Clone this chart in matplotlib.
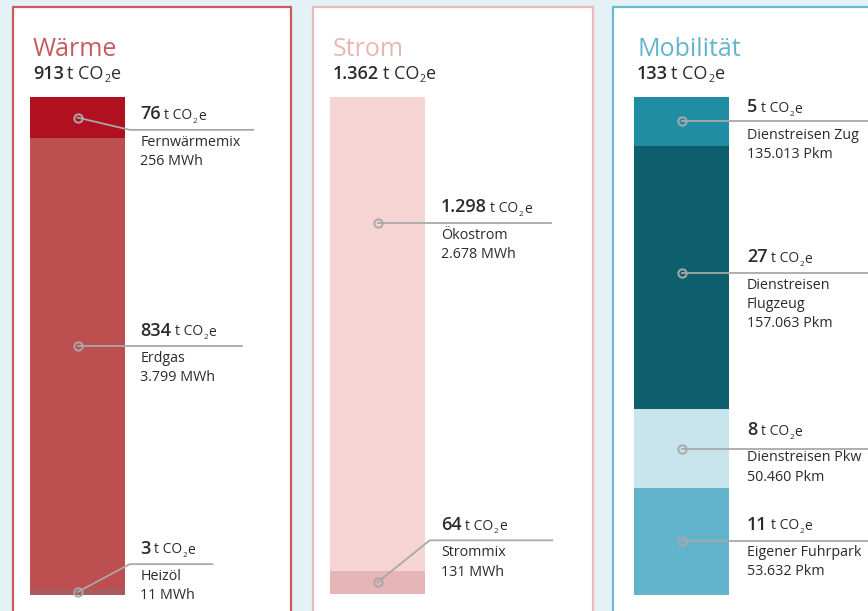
import matplotlib.pyplot as plt
from matplotlib.patches import Rectangle

plt.rcParams["font.family"] = ["Open Sans", "DejaVu Sans"]

# DATEN
bereiche      = ["Wärme", "Strom", "Mobilität"]
gesamt        = ["913", "1.362", "133"]

waerme_namen  = ["Fernwärmemix", "Erdgas", "Heizöl"]
waerme_t      = [76, 834, 3]
waerme_menge  = ["256 MWh", "3.799 MWh", "11 MWh"]

strom_namen   = ["Ökostrom", "Strommix"]
strom_t       = [1298, 64]
strom_menge   = ["2.678 MWh", "131 MWh"]

mob_namen     = ["Dienstreisen Zug", "Dienstreisen\nFlugzeug", "Dienstreisen Pkw", "Eigener Fuhrpark"]
mob_t         = [5, 27, 8, 11]
mob_menge     = ["135.013 Pkm", "157.063 Pkm", "50.460 Pkm", "53.632 Pkm"]

# FARBEN / LAYOUT
HINTERGRUND = "#e4f2f5"
rand_farben = ["#cc5a5c", "#ebb9b9", "#6bbad3"]
titel_farben = ["#c95a5c", "#ebb5b5", "#63b5cf"]
waerme_farben = ["#b0101f", "#bd4f50", "#a65c5c"]
strom_farben  = ["#f7d4d4", "#e6b6b6"]
mob_farben    = ["#1f8ea2", "#0d5f6e", "#c8e4ec", "#62b3cc"]

# (x, breite) der Paneele in Pixel, Balken (x, y, breite, hoehe)
paneele = [(13, 278), (313, 280), (613, 300)]
balken  = [(30, 97, 95, 498), (330, 97, 95, 497), (634, 97, 95, 498)]
text_x  = [1.16, 1.17, 1.19]
# Höhe der Führungslinie (Anteil von oben) und Linienende (x in Achsenanteil)
linie_y   = [[0.066, 0.50, 0.938], [0.253, 0.892], [0.052, 0.353, 0.70, 0.89]]
linie_end = [[2.35, 2.23, 1.92], [2.33, 2.34], [3.0, 3.0, 3.0, 3.0]]

MIN_ANTEIL = 0.012   # kleine Segmente sichtbar machen
LINIE = "#a9a9a9"
TEXT = "#2b2b2b"
DESC = 0.24          # Unterlänge (Anteil der Schriftgröße)

W, H = 868, 611
fig = plt.figure(figsize=(W / 100, H / 100), dpi=100)
fig.patch.set_facecolor(HINTERGRUND)

bg = fig.add_axes([0, 0, 1, 1])
bg.set_xlim(0, W)
bg.set_ylim(H, 0)
bg.axis("off")


def zahl(v):
    return f"{v:,}".replace(",", ".")


def einheit(ax, num, gross, klein):
    """'t CO₂e' rechts neben eine Zahl setzen, Grundlinie ausrichten."""
    tco = ax.annotate("t CO", xy=(1, 0), xycoords=num,
                      xytext=(2.5, DESC * gross), textcoords="offset points",
                      fontsize=klein, color=TEXT, va="baseline", ha="left")
    sub = klein * 0.58
    tief = klein * 0.22
    zwei = ax.annotate("2", xy=(1, 0), xycoords=tco,
                       xytext=(0.3, DESC * klein - tief), textcoords="offset points",
                       fontsize=sub, color=TEXT, va="baseline", ha="left")
    ax.annotate("e", xy=(1, 0), xycoords=zwei,
                xytext=(0.3, DESC * sub + tief), textcoords="offset points",
                fontsize=klein, color=TEXT, va="baseline", ha="left")


alle_namen  = [waerme_namen, strom_namen, mob_namen]
alle_t      = [waerme_t, strom_t, mob_t]
alle_menge  = [waerme_menge, strom_menge, mob_menge]
alle_farben = [waerme_farben, strom_farben, mob_farben]

for i in range(3):
    px, pw = paneele[i]
    bg.add_patch(Rectangle((px, 7), pw, 650, facecolor="white",
                           edgecolor=rand_farben[i], linewidth=1.6))
    tx = balken[i][0] + 3
    bg.text(tx, 56, bereiche[i], fontsize=18, color=titel_farben[i], va="baseline")
    num = bg.text(tx, 79, gesamt[i], fontsize=13, fontweight=600, color=TEXT, va="baseline")
    einheit(bg, num, 13, 13)

    # Balken
    bx, by, bw, bh = balken[i]
    ax = fig.add_axes([bx / W, 1 - (by + bh) / H, bw / W, bh / H])
    ax.axis("off")
    werte = alle_t[i]
    summe = sum(werte)
    anzeige = [max(v, MIN_ANTEIL * summe) for v in werte]
    total = sum(anzeige)
    ax.set_xlim(0, 1)
    ax.set_ylim(total, 0)

    unten = 0
    for j, v in enumerate(anzeige):
        ax.bar(0.5, v, bottom=unten, width=1, color=alle_farben[i][j], linewidth=0)
        mitte = 1 - (unten + v / 2) / total     # Achsenanteil
        ly = 1 - linie_y[i][j]
        if v / total > 0.4:
            dot_y = ly
            xs, ys = [0.5, linie_end[i][j]], [ly, ly]
        else:
            dot_y = mitte
            if abs(dot_y - ly) < 0.01:
                xs, ys = [0.5, linie_end[i][j]], [dot_y, dot_y]
            else:
                xs, ys = [0.5, 1.05, linie_end[i][j]], [dot_y, ly, ly]
        ax.plot(xs, ys, color=LINIE, linewidth=1.3, transform=ax.transAxes,
                clip_on=False, zorder=3)
        ax.plot([0.5], [dot_y], marker="o", markersize=6, markerfacecolor="none",
                markeredgecolor=LINIE, markeredgewidth=1.4, transform=ax.transAxes,
                clip_on=False, zorder=4)

        num = ax.annotate(zahl(werte[j]), xy=(text_x[i], ly), xycoords="axes fraction",
                          xytext=(0, 7.5), textcoords="offset points",
                          fontsize=13, fontweight=600, color=TEXT, va="baseline", ha="left")
        einheit(ax, num, 13, 10)
        ax.annotate(alle_namen[i][j] + "\n" + alle_menge[i][j], xy=(text_x[i], ly),
                    xycoords="axes fraction", xytext=(0, -3.5), textcoords="offset points",
                    fontsize=10.3, color=TEXT, va="top", ha="left", linespacing=1.4)
        unten += v

fig.savefig("out.png", dpi=100, facecolor=HINTERGRUND)
